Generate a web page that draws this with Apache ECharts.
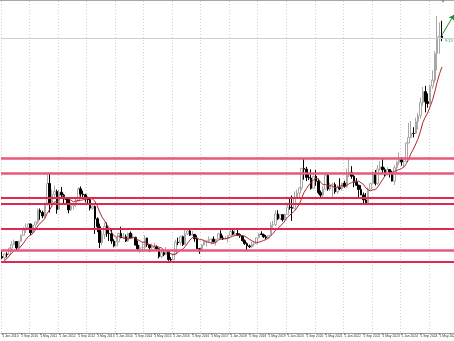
<!DOCTYPE html>
<html>
<head>
<meta charset="utf-8">
<script src="https://cdn.jsdelivr.net/npm/echarts@6/dist/echarts.min.js"></script>
<style>
html,body{margin:0;padding:0;background:#fff;}
#chart{width:454px;height:341px;}
</style>
</head>
<body>
<div id="chart"></div>
<script>
// monthly candles, [open, close, low, high]
var y2010 = [[1096,1081,1072,1161],[1081,1118,1044,1128],[1118,1113,1086,1137],[1113,1179,1112,1183],[1179,1213,1159,1249],[1213,1245,1208,1265],[1245,1181,1157,1245],[1181,1247,1179,1254],[1247,1307,1242,1314],[1307,1358,1306,1388],[1358,1385,1331,1424],[1385,1420,1360,1431]];
var y2011 = [[1420,1332,1308,1424],[1332,1409,1327,1411],[1409,1439,1381,1447],[1439,1556,1419,1576],[1556,1536,1462,1575],[1536,1500,1478,1553],[1500,1628,1478,1632],[1628,1826,1603,1912],[1826,1620,1535,1921],[1620,1714,1600,1764],[1714,1746,1667,1804],[1746,1565,1523,1764]];
var y2012 = [[1565,1737,1562,1764],[1737,1710,1688,1791],[1710,1669,1627,1723],[1669,1664,1614,1678],[1664,1561,1527,1666],[1561,1604,1547,1642],[1604,1615,1563,1628],[1615,1648,1589,1692],[1648,1772,1642,1790],[1772,1720,1692,1796],[1720,1712,1672,1755],[1712,1675,1636,1723]];
var y2013 = [[1675,1663,1626,1694],[1663,1578,1555,1684],[1578,1595,1562,1617],[1595,1472,1321,1605],[1472,1393,1338,1487],[1393,1234,1180,1424],[1234,1314,1207,1348],[1314,1396,1271,1434],[1396,1326,1291,1434],[1326,1323,1251,1362],[1323,1250,1221,1362],[1250,1201,1187,1267]];
var y2014 = [[1201,1242,1201,1280],[1242,1326,1238,1332],[1326,1284,1277,1392],[1284,1292,1268,1331],[1292,1250,1240,1315],[1250,1327,1241,1332],[1327,1282,1281,1345],[1282,1287,1273,1323],[1287,1209,1206,1292],[1209,1171,1161,1255],[1171,1183,1131,1206],[1183,1184,1142,1239]];
var y2015 = [[1184,1279,1167,1307],[1279,1213,1191,1282],[1213,1183,1142,1220],[1183,1183,1170,1224],[1183,1190,1169,1232],[1190,1172,1162,1205],[1172,1095,1077,1175],[1095,1133,1080,1170],[1133,1115,1098,1156],[1115,1142,1107,1191],[1142,1065,1052,1146],[1065,1061,1046,1088]];
var y2016 = [[1061,1118,1061,1123],[1118,1238,1110,1263],[1238,1233,1208,1283],[1233,1293,1207,1303],[1293,1215,1199,1304],[1215,1322,1208,1362],[1322,1351,1310,1375],[1351,1309,1301,1367],[1309,1316,1302,1352],[1316,1273,1241,1317],[1273,1173,1171,1307],[1173,1150,1122,1181]];
var y2017 = [[1150,1210,1146,1220],[1210,1249,1207,1264],[1249,1249,1195,1262],[1249,1268,1241,1295],[1268,1268,1214,1272],[1268,1242,1236,1296],[1242,1269,1205,1271],[1269,1322,1267,1331],[1322,1280,1275,1357],[1280,1271,1260,1306],[1271,1275,1264,1299],[1275,1303,1236,1306]];
var y2018 = [[1303,1345,1302,1366],[1345,1318,1307,1362],[1318,1325,1303,1356],[1325,1316,1301,1365],[1316,1299,1282,1326],[1299,1253,1245,1309],[1253,1224,1211,1266],[1224,1201,1160,1237],[1201,1192,1180,1214],[1192,1215,1182,1243],[1215,1222,1196,1237],[1222,1282,1221,1284]];
var y2019 = [[1282,1321,1276,1326],[1321,1313,1311,1347],[1313,1292,1281,1324],[1292,1283,1266,1310],[1283,1305,1267,1306],[1305,1409,1304,1439],[1409,1413,1382,1453],[1413,1520,1400,1555],[1520,1472,1459,1557],[1472,1513,1458,1518],[1513,1464,1445,1516],[1464,1517,1454,1524]];
var y2020 = [[1517,1589,1517,1611],[1589,1585,1563,1689],[1585,1577,1451,1704],[1577,1686,1567,1747],[1686,1730,1670,1765],[1730,1781,1671,1789],[1781,1975,1757,1984],[1975,1968,1863,2075],[1968,1886,1849,1992],[1886,1879,1860,1933],[1879,1776,1764,1966],[1776,1898,1775,1906]];
var y2021 = [[1898,1848,1802,1959],[1848,1734,1717,1875],[1734,1708,1677,1755],[1708,1769,1678,1798],[1769,1907,1765,1913],[1907,1770,1751,1917],[1770,1814,1751,1832],[1814,1814,1688,1833],[1814,1743,1722,1835],[1743,1783,1721,1813],[1783,1774,1759,1877],[1774,1829,1753,1832]];
var y2022 = [[1829,1797,1781,1853],[1797,1909,1780,1974],[1909,1937,1890,2070],[1937,1897,1872,1998],[1897,1837,1787,1910],[1837,1807,1805,1879],[1807,1765,1681,1814],[1765,1711,1709,1808],[1711,1661,1615,1735],[1661,1633,1617,1730],[1633,1769,1617,1786],[1769,1824,1765,1833]];
var y2023 = [[1824,1928,1822,1949],[1928,1827,1805,1960],[1827,1969,1809,2009],[1969,1990,1950,2049],[1990,1963,1932,2079],[1963,1919,1893,1984],[1919,1965,1903,1987],[1965,1940,1885,1967],[1940,1849,1846,1953],[1849,1983,1810,2009],[1983,2036,1931,2052],[2036,2063,2010,2135]];
var y2024 = [[2063,2040,2002,2088],[2040,2044,1984,2065],[2044,2230,2039,2236],[2230,2286,2228,2431],[2286,2327,2277,2450],[2327,2326,2286,2388],[2326,2447,2318,2483],[2447,2503,2364,2531],[2503,2634,2472,2685],[2634,2744,2604,2790],[2744,2643,2536,2801],[2643,2625,2583,2726]];
var y2025 = [[2625,2798,2614,2817],[2798,2858,2772,2956],[2858,3124,2832,3149],[3124,3289,2957,3500],[3289,3300,3121,3435],[3300,3285,3248,3452]];

// closes before the first bar, for the moving average warm-up (Jun-Dec 2009)
var warmup = [927, 955, 955, 1008, 1040, 1182, 1097];

var levels = [2075, 1925, 1680, 1625, 1375, 1160, 1045];
var wideLevels = [2075, 1925, 1160];
var bidPrice = 3280;
var arrowFrom = ['1 Jun 2025', 3310];
var arrowTo = ['1 Nov 2025', 3510];
var timerText = '9:13';

var maPeriod = 8;
var months = ['Jan','Feb','Mar','Apr','May','Jun','Jul','Aug','Sep','Oct','Nov','Dec'];
var firstYear = 2010, nMonths = 191;

var candles = [].concat(y2010,y2011,y2012,y2013,y2014,y2015,y2016,y2017,y2018,y2019,y2020,y2021,y2022,y2023,y2024,y2025);

var cats = [];
for (var i = 0; i < nMonths; i++) {
    cats.push('1 ' + months[i % 12] + ' ' + (firstYear + Math.floor(i / 12)));
}

var closes = warmup.concat(candles.map(function(d){ return d[1]; }));
var ma = [];
for (var i = 0; i < candles.length; i++) {
    var s = 0;
    for (var k = 0; k < maPeriod; k++) s += closes[i + warmup.length - k];
    ma.push(+(s / maPeriod).toFixed(1));
}

var levelLines = levels.map(function(v){
    var wide = wideLevels.indexOf(v) >= 0;
    return {
        yAxis: v,
        lineStyle: { color: wide ? '#e8587c' : '#e0294f', width: wide ? 2.6 : 1.8, type: 'solid' }
    };
});
levelLines.push({ yAxis: bidPrice, lineStyle: { color: '#cfcfcf', width: 1, type: 'solid' } });

var myChart = echarts.init(document.getElementById('chart'), null, { renderer: 'canvas' });

var option = {
    animation: false,
    backgroundColor: '#ffffff',
    grid: { left: 1, right: -1, top: 1, bottom: 8, outerBoundsMode: 'none' },
    xAxis: [
        {
            type: 'category',
            data: cats,
            boundaryGap: true,
            axisLine: { show: true, lineStyle: { color: '#9a9a9a', width: 1 } },
            axisTick: {
                show: true, alignWithLabel: true, length: 2,
                interval: 7,
                lineStyle: { color: '#888' }
            },
            axisLabel: {
                interval: 7,
                align: 'left',
                margin: 2,
                fontSize: 3.3,
                fontFamily: 'Liberation Sans',
                color: '#333'
            },
            splitLine: { show: false }
        },
        {
            // yearly grid lines, one every 12 months
            type: 'value',
            position: 'top',
            min: 0,
            max: nMonths,
            interval: 12,
            axisLine: { show: false },
            axisTick: { show: false },
            axisLabel: { show: false },
            splitLine: { show: true, lineStyle: { color: '#d0d0d0', width: 1, type: [1, 2] } }
        }
    ],
    yAxis: {
        type: 'value',
        min: 330,
        max: 3650,
        scale: true,
        axisLine: { show: false },
        axisTick: { show: false },
        axisLabel: { show: false },
        splitLine: { show: false }
    },
    series: [
        {
            name: 'price',
            type: 'candlestick',
            data: candles,
            barWidth: 2,
            itemStyle: {
                color: '#ffffff',
                color0: '#000000',
                borderColor: '#a8a8a8',
                borderColor0: '#000000',
                borderWidth: 1
            },
            markLine: {
                silent: true,
                symbol: 'none',
                label: { show: false },
                z: 5,
                data: levelLines
            }
        },
        {
            name: 'MA',
            type: 'line',
            data: ma,
            showSymbol: false,
            symbol: 'none',
            lineStyle: { color: '#b3262b', width: 1 },
            z: 4,
            markLine: {
                silent: true,
                symbol: ['none', 'arrow'],
                symbolSize: 5,
                label: { show: false },
                lineStyle: { color: '#1f8a2e', width: 1, type: 'solid' },
                data: [[{ coord: arrowFrom }, { coord: arrowTo }]]
            }
        }
    ],
    graphic: [
        { type: 'line', shape: { x1: 0, y1: 0.5, x2: 454, y2: 0.5 }, style: { stroke: '#a9a9a9', lineWidth: 1 }, silent: true },
        { type: 'polygon', shape: { points: [[441.5, 0], [444.5, 0], [443, 3]] }, style: { fill: '#8a8a8a' }, silent: true },
        { type: 'text', left: 445, top: 38.5, style: { text: timerText, fill: '#3aa35c', font: '4px Liberation Sans' }, silent: true }
    ]
};

myChart.setOption(option);
window.addEventListener('resize', myChart.resize);
</script>
</body>
</html>
